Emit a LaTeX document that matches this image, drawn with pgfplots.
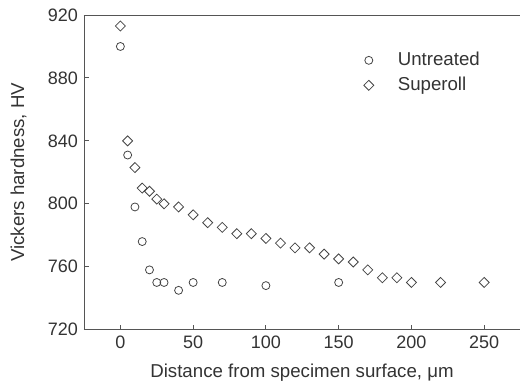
\documentclass[border=0pt]{standalone}
\usepackage{fontspec}
\setmainfont{Liberation Sans}
\usepackage{pgfplots}
\pgfplotsset{compat=1.18}
\usetikzlibrary{calc}
\definecolor{txt}{HTML}{333333}
\definecolor{mk}{HTML}{444444}
\definecolor{ax}{HTML}{555555}
\begin{document}
\begin{tikzpicture}
\begin{axis}[
 name=ax,
 width=327pt, height=236pt, scale only axis,
 xmin=-25, xmax=274.6, ymin=720, ymax=920,
 axis x line*=bottom, axis y line*=left,
 axis line style={-, draw=ax, line width=0.7pt},
 xtick={0,50,...,250}, ytick={720,760,...,920},
 tick align=inside, major tick length=3.75pt,
 tick style={draw=ax, line width=0.7pt},
 /pgf/number format/assume math mode=true,
 ticklabel style={font=\fontsize{13.5}{15}\selectfont, text=txt},
 xticklabel style={yshift=-1pt},
 yticklabel style={xshift=-1pt},
 every axis y label/.style={at={(axis description cs:-0.15,0.5)}, rotate=90, anchor=center, font=\fontsize{14}{16}\selectfont, text=txt},
 every axis x label/.style={at={(axis description cs:0.5,-0.137)}, anchor=center, font=\fontsize{14}{16}\selectfont, text=txt},
 xlabel={Distance from specimen surface, μm},
 ylabel={Vickers hardness, HV},
 legend style={draw=none, fill=none, at={(0.632,0.897)}, anchor=north west, font=\fontsize{14}{16}\selectfont, text=txt, row sep=3.75pt,
   nodes={inner sep=1pt, text height=10pt, text depth=3pt},
   /tikz/every odd column/.style={column sep=17pt}},
 legend cell align=left,
 clip=false,
]
\addplot[only marks, mark=o, mark size=3pt, draw=mk, line width=0.6pt] coordinates {
(0,900) (5,831) (10,798) (15,776) (20,758) (25,750) (30,750) (40,745) (50,750) (70,750) (100,748) (150,750)
};
\addlegendentry{Untreated}
\addplot[only marks, mark=square, mark size=2.65pt, mark options={rotate=45}, draw=mk, line width=0.6pt] coordinates {
(0,913) (5,840) (10,823) (15,810) (20,808) (25,803) (30,800) (40,798) (50,793) (60,788) (70,785) (80,781) (90,781)
(100,778) (110,775) (120,772) (130,772) (140,768) (150,765) (160,763) (170,758) (180,753) (190,753) (200,750) (220,750) (250,750)
};
\addlegendentry{Superoll}
\draw[ax, line width=0.7pt] (rel axis cs:0,1) -- (rel axis cs:1,1);
\end{axis}
\pgfresetboundingbox
\path (ax.south west) ++(-63pt,-45pt) rectangle ($(ax.north east)+(0,11.25pt)$);
\end{tikzpicture}
\end{document}
